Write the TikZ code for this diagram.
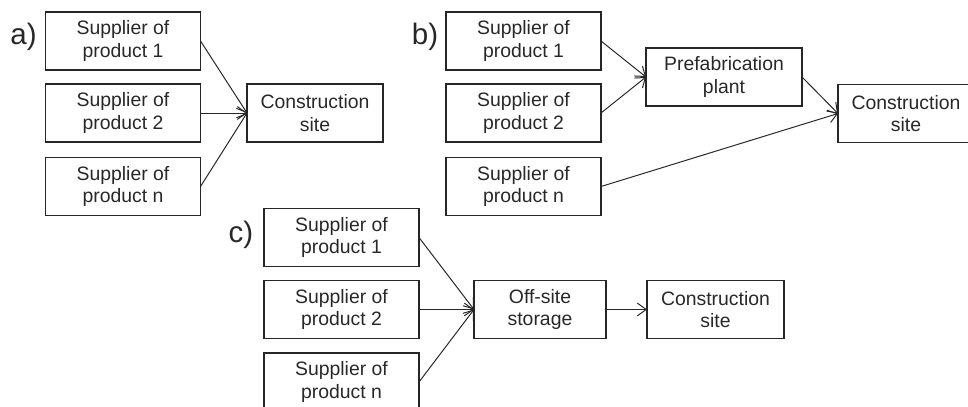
\documentclass[tikz,border=0pt]{standalone}
\usepackage{fontspec}
\setmainfont{Liberation Sans}
\usepackage{tikz}
\usetikzlibrary{arrows.meta}
\usetikzlibrary{positioning}
\definecolor{boxline}{RGB}{38,38,38}
\definecolor{ink}{RGB}{40,40,40}
\tikzstyle{base}=[x=0.025cm, y=-0.025cm, inner sep=0pt, outer sep=0pt]
\tikzstyle{box}=[draw=boxline, line width=0.9pt, text=ink, align=center, minimum height=1.45cm, font=\fontsize{13.8}{15.8}\selectfont]
\tikzstyle{supplier}=[box, minimum width=3.875cm]
\tikzstyle{flow}=[draw=boxline, line width=0.7pt, -{Straight Barb[length=2.2mm, width=3.2mm]}]
\tikzstyle{tag}=[text=ink, font=\fontsize{21}{21}\selectfont]

\begin{document}
\begin{tikzpicture}[base]
    \useasboundingbox (0,0) rectangle (968,407);
        \node [tag] (la) at (23.5,36.5) {a)};
        \node [supplier] (a1) at (123,41) {Supplier of\\product 1};
        \node [supplier] (a2) at (123,113) {Supplier of\\product 2};
        \node [supplier] (a3) at (123,186.5) {Supplier of\\product n};
        \node [box, minimum width=3.4cm] (asite) at (315,113) {Construction\\site};
        \draw [flow] (a1.east) -- (asite.west);
        \draw [flow] (a2.east) -- (asite.west);
        \draw [flow] (a3.east) -- (asite.west);

        \node [tag] (lb) at (425,36.5) {b)};
        \node [supplier] (b1) at (523.5,41) {Supplier of\\product 1};
        \node [supplier] (b2) at (523.5,113) {Supplier of\\product 2};
        \node [supplier] (b3) at (523.5,186.5) {Supplier of\\product n};
        \node [box, minimum width=3.9cm] (bplant) at (724,77) {Prefabrication\\plant};
        \node [box, minimum width=3.4cm] (bsite) at (906,113.5) {Construction\\site};
        \draw [flow] (b1.east) -- (bplant.west);
        \draw [flow] (b2.east) -- (bplant.west);
        \draw [flow] (bplant.east) -- (bsite.west);
        \draw [flow] (b3.east) -- (bsite.west);

        \node [tag] (lc) at (241,235) {c)};
        \node [supplier] (c1) at (341.5,237.5) {Supplier of\\product 1};
        \node [supplier] (c2) at (341.5,309.5) {Supplier of\\product 2};
        \node [supplier] (c3) at (341.5,382) {Supplier of\\product n};
        \node [box, minimum width=3.3cm] (cstore) at (540,309.5) {Off-site\\storage};
        \node [box, minimum width=3.425cm] (csite) at (715.5,309.5) {Construction\\site};
        \draw [flow] (c1.east) -- (cstore.west);
        \draw [flow] (c2.east) -- (cstore.west);
        \draw [flow] (c3.east) -- (cstore.west);
        \draw [flow] (cstore.east) -- (csite.west);
    \end{tikzpicture}
\end{document}
